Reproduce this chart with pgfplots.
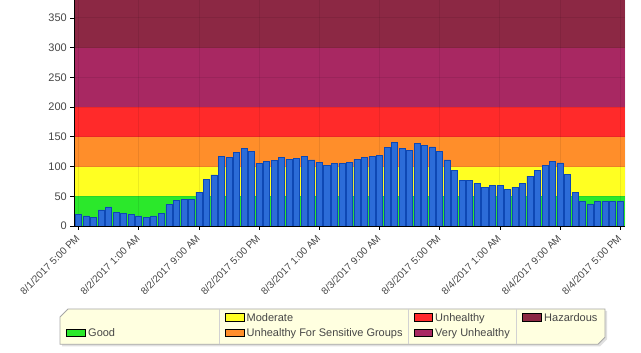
\documentclass[border=0pt]{standalone}
\usepackage{pgfplots}
\pgfplotsset{compat=1.18}
\usepackage{pgfplotstable}
\usepackage{fontspec}
\setmainfont{Liberation Sans}

\definecolor{cGood}{RGB}{43,232,43}
\definecolor{cMod}{RGB}{255,255,34}
\definecolor{cUSG}{RGB}{255,142,42}
\definecolor{cUnh}{RGB}{255,42,42}
\definecolor{cVU}{RGB}{168,40,98}
\definecolor{cHaz}{RGB}{140,40,68}
\definecolor{barEdge}{RGB}{14,72,180}
\definecolor{barDark}{RGB}{44,108,216}
\definecolor{barLight}{RGB}{130,178,248}
\definecolor{legBg}{RGB}{255,255,224}
\definecolor{txt}{RGB}{70,70,70}

\pgfplotstableread{
h v
0 19
1 17
2 14
3 27
4 32
5 23
6 21
7 19
8 17
9 14
10 17
11 21
12 36
13 43
14 44
15 44
16 57
17 78
18 86
19 117
20 115
21 124
22 131
23 125
24 105
25 109
26 110
27 115
28 112
29 114
30 117
31 111
32 107
33 102
34 105
35 105
36 107
37 112
38 116
39 117
40 119
41 132
42 141
43 130
44 127
45 139
46 136
47 133
48 126
49 111
50 94
51 77
52 77
53 72
54 65
55 68
56 68
57 62
58 65
59 72
60 84
61 94
62 102
63 109
64 106
65 87
66 57
67 42
68 37
69 42
70 42
71 42
72 42
}\aqi

\begin{document}
\begin{tikzpicture}
\begin{axis}[
  at={(74.3bp,127bp)}, anchor=south west, scale only axis,
  width=550.7bp, height=226bp,
  xmin=-0.57, xmax=72.63, ymin=0, ymax=380,
  set layers,
  axis x line=bottom, axis y line=left,
  axis line style={-, black, line width=0.8bp},
  tick align=outside, major tick length=4bp,
  tick style={black, line width=0.6bp},
  xtick={0,8,...,72},
  xticklabels={8/1/2017 5:00 PM,8/2/2017 1:00 AM,8/2/2017 9:00 AM,8/2/2017 5:00 PM,8/3/2017 1:00 AM,8/3/2017 9:00 AM,8/3/2017 5:00 PM,8/4/2017 1:00 AM,8/4/2017 9:00 AM,8/4/2017 5:00 PM},
  ytick={0,50,...,350},
  /pgf/number format/assume math mode=true,
  yticklabel style={font=\fontsize{11bp}{13bp}\selectfont, text=txt},
  xticklabel shift=6bp,
  xticklabel style={font=\fontsize{10bp}{12bp}\selectfont, text=txt, rotate=45, anchor=east, inner sep=1bp},
  grid=major, grid style={black, opacity=0.08, line width=0.8bp},
]
\addplot[fill=cHaz, draw=none, on layer=axis background] coordinates {(-0.57,380) (72.63,380)} \closedcycle;
\addplot[fill=cVU, draw=none, on layer=axis background] coordinates {(-0.57,300) (72.63,300)} \closedcycle;
\addplot[fill=cUnh, draw=none, on layer=axis background] coordinates {(-0.57,200) (72.63,200)} \closedcycle;
\addplot[fill=cUSG, draw=none, on layer=axis background] coordinates {(-0.57,150) (72.63,150)} \closedcycle;
\addplot[fill=cMod, draw=none, on layer=axis background] coordinates {(-0.57,100) (72.63,100)} \closedcycle;
\addplot[fill=cGood, draw=none, on layer=axis background] coordinates {(-0.57,50) (72.63,50)} \closedcycle;
\addplot[ybar, bar width=0.8, draw=barEdge, line width=0.7bp,
  left color=barDark, middle color=barLight, right color=barDark] table[x=h, y=v] {\aqi};
\draw[gray!50, line width=0.8bp] (rel axis cs:1,0) -- (rel axis cs:1,1);
\end{axis}
\begin{scope}[x=1bp, y=1bp]
  \fill[black, opacity=0.12] (62,6.7) -- (62,34) -- (70,42) -- (607,42) -- (607,13.7) -- (600,6.7) -- cycle;
  \filldraw[fill=legBg, draw=gray!70, line width=0.8bp] (60,8.7) -- (60,36) -- (68,44) -- (605,44) -- (605,15.7) -- (598,8.7) -- cycle;
  \draw[gray!35, line width=0.8bp] (219.3,8.7) -- (219.3,44);
  \draw[gray!35, line width=0.8bp] (408.3,8.7) -- (408.3,44);
  \draw[gray!35, line width=0.8bp] (516,8.7) -- (516,44);
  \tikzset{sw/.style={draw=black, line width=0.7bp}, lt/.style={anchor=base west, inner sep=0pt, text=txt, font=\fontsize{11bp}{13bp}\selectfont}}
  % Good
  \filldraw[sw, fill=cGood] (66,16.3) rectangle (85.7,23.7);
  \node[lt] at (88,16.3) {Good};
  % Moderate
  \filldraw[sw, fill=cMod] (225,32) rectangle (244.3,39.7);
  \node[lt] at (246.5,32) {Moderate};
  % USG
  \filldraw[sw, fill=cUSG] (225,16.3) rectangle (244.3,23.7);
  \node[lt] at (246.5,16.3) {Unhealthy For Sensitive Groups};
  % Unhealthy
  \filldraw[sw, fill=cUnh] (414,32) rectangle (432.7,39.7);
  \node[lt] at (435,32) {Unhealthy};
  % Very Unhealthy
  \filldraw[sw, fill=cVU] (414,16.3) rectangle (432.7,23.7);
  \node[lt] at (435,16.3) {Very Unhealthy};
  % Hazardous
  \filldraw[sw, fill=cHaz] (522,32) rectangle (541,39.7);
  \node[lt] at (544,32) {Hazardous};
\end{scope}
\pgfresetboundingbox
\path[use as bounding box] (0,0) rectangle (641bp,353bp);
\end{tikzpicture}
\end{document}
